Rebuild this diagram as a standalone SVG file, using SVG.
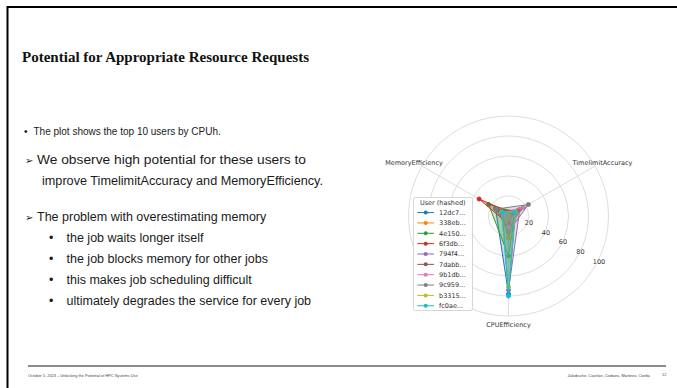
<svg xmlns="http://www.w3.org/2000/svg" width="677" height="388" viewBox="0 0 677 388">
<defs>
<style>
.body{font-family:"Liberation Sans",Arial,sans-serif;fill:#1a1a1a}
.sym{font-family:"DejaVu Sans",sans-serif;fill:#1a1a1a}
.mpl{font-family:"DejaVu Sans",sans-serif;fill:#333;font-size:6.5px}
.grid{fill:none;stroke:#d4d4d4;stroke-width:0.8}
.foot{font-family:"Liberation Sans",Arial,sans-serif;fill:#444;font-size:3.9px}
.poly{stroke-width:1;fill-opacity:0.25;stroke-linejoin:round}
</style>
</defs>
<rect x="0" y="0" width="677" height="388" fill="#ffffff"/>
<g id="frame">
<path d="M7.5 388 V7 H677" fill="none" stroke="#000" stroke-width="2"/>
</g>
<g id="title">
<text x="22" y="62" font-family="Liberation Serif,'DejaVu Serif',serif" font-weight="bold" font-size="15.5" fill="#111" textLength="287" lengthAdjust="spacingAndGlyphs">Potential for Appropriate Resource Requests</text>
</g>
<g id="text-left">
<text class="body" x="24" y="134.5" font-size="10">•</text>
<text class="body" x="33.5" y="134.5" font-size="10">The plot shows the top 10 users by CPUh.</text>
<text class="sym" x="25" y="163.5" font-size="10">➢</text>
<text class="body" x="37" y="163.5" font-size="12.5" textLength="269" lengthAdjust="spacingAndGlyphs">We observe high potential for these users to</text>
<text class="body" x="42" y="184.5" font-size="12.5" textLength="281" lengthAdjust="spacingAndGlyphs">improve TimelimitAccuracy and MemoryEfficiency.</text>
<text class="sym" x="25" y="220.5" font-size="10">➢</text>
<text class="body" x="37" y="220.5" font-size="12.5">The problem with overestimating memory</text>
<text class="body" x="49" y="241.5" font-size="12.5">•</text>
<text class="body" x="66.5" y="241.5" font-size="12.5">the job waits longer itself</text>
<text class="body" x="49" y="262.5" font-size="12.5">•</text>
<text class="body" x="66.5" y="262.5" font-size="12.5">the job blocks memory for other jobs</text>
<text class="body" x="49" y="283.5" font-size="12.5">•</text>
<text class="body" x="66.5" y="283.5" font-size="12.5">this makes job scheduling difficult</text>
<text class="body" x="49" y="304.5" font-size="12.5">•</text>
<text class="body" x="66.5" y="304.5" font-size="12.5">ultimately degrades the service for every job</text>
</g>
<g id="chart-grid">
<circle class="grid" cx="508.5" cy="216" r="20"/>
<circle class="grid" cx="508.5" cy="216" r="40"/>
<circle class="grid" cx="508.5" cy="216" r="60"/>
<circle class="grid" cx="508.5" cy="216" r="80"/>
<circle class="grid" cx="508.5" cy="216" r="100"/>
<path class="grid" d="M508.5 216 L595.1 166 M508.5 216 L421.9 166 M508.5 216 L508.5 316"/>
<text class="mpl" x="414" y="164.5" text-anchor="middle">MemoryEfficiency</text>
<text class="mpl" x="602.5" y="164.5" text-anchor="middle">TimelimitAccuracy</text>
<text class="mpl" x="508.5" y="326.5" text-anchor="middle">CPUEfficiency</text>
<text class="mpl" x="529" y="225.3" text-anchor="middle">20</text>
<text class="mpl" x="546" y="235.3" text-anchor="middle">40</text>
<text class="mpl" x="563" y="244.3" text-anchor="middle">60</text>
<text class="mpl" x="580.5" y="254.3" text-anchor="middle">80</text>
<text class="mpl" x="599" y="264.3" text-anchor="middle">100</text>
</g>
<g id="connectors">
<g stroke="#1f77b4" fill="#1f77b4"><polygon class="poly" points="495.5,208.5 515.4,212 508.5,294"/><circle cx="495.5" cy="208.5" r="2"/><circle cx="515.4" cy="212" r="2"/><circle cx="508.5" cy="294" r="2"/></g>
<g stroke="#ff7f0e" fill="#ff7f0e"><polygon class="poly" points="499.8,211 518.9,210 508.5,238"/><circle cx="499.8" cy="211" r="2"/><circle cx="518.9" cy="210" r="2"/><circle cx="508.5" cy="238" r="2"/></g>
<g stroke="#2ca02c" fill="#2ca02c"><polygon class="poly" points="488.6,204.5 515.4,212 508.5,256"/><circle cx="488.6" cy="204.5" r="2"/><circle cx="515.4" cy="212" r="2"/><circle cx="508.5" cy="256" r="2"/></g>
<g stroke="#d62728" fill="#d62728"><polygon class="poly" points="479.1,199 512.8,213.5 508.5,224"/><circle cx="479.1" cy="199" r="2"/><circle cx="512.8" cy="213.5" r="2"/><circle cx="508.5" cy="224" r="2"/></g>
<g stroke="#9467bd" fill="#9467bd"><polygon class="poly" points="501.6,212 519.8,209.5 508.5,290"/><circle cx="501.6" cy="212" r="2"/><circle cx="519.8" cy="209.5" r="2"/><circle cx="508.5" cy="290" r="2"/></g>
<g stroke="#8c564b" fill="#8c564b"><polygon class="poly" points="498.1,210 518,210.5 508.5,232"/><circle cx="498.1" cy="210" r="2"/><circle cx="518" cy="210.5" r="2"/><circle cx="508.5" cy="232" r="2"/></g>
<g stroke="#e377c2" fill="#e377c2"><polygon class="poly" points="503.3,213 523.2,207.5 508.5,228"/><circle cx="503.3" cy="213" r="2"/><circle cx="523.2" cy="207.5" r="2"/><circle cx="508.5" cy="228" r="2"/></g>
<g stroke="#7f7f7f" fill="#7f7f7f"><polygon class="poly" points="496.4,209 528.4,204.5 508.5,232"/><circle cx="496.4" cy="209" r="2"/><circle cx="528.4" cy="204.5" r="2"/><circle cx="508.5" cy="232" r="2"/></g>
<g stroke="#bcbd22" fill="#bcbd22"><polygon class="poly" points="501.6,212 515.4,212 508.5,287"/><circle cx="501.6" cy="212" r="2"/><circle cx="515.4" cy="212" r="2"/><circle cx="508.5" cy="287" r="2"/></g>
<g stroke="#17becf" fill="#17becf"><polygon class="poly" points="502.4,212.5 514.6,212.5 508.5,296"/><circle cx="502.4" cy="212.5" r="2"/><circle cx="514.6" cy="212.5" r="2"/><circle cx="508.5" cy="296" r="2"/></g>
</g>
<g id="legend">
<rect x="413.5" y="197.5" width="59" height="113" rx="2" fill="#fff" fill-opacity="0.85" stroke="#cccccc" stroke-width="0.8"/>
<text class="mpl" x="442.8" y="205.3" text-anchor="middle" font-size="7">User (hashed)</text>
<g stroke-width="1">
<line x1="417.3" y1="212.6" x2="434" y2="212.6" stroke="#1f77b4"/><circle cx="425.7" cy="212.6" r="2" fill="#1f77b4"/>
<line x1="417.3" y1="222.95" x2="434" y2="222.95" stroke="#ff7f0e"/><circle cx="425.7" cy="222.95" r="2" fill="#ff7f0e"/>
<line x1="417.3" y1="233.3" x2="434" y2="233.3" stroke="#2ca02c"/><circle cx="425.7" cy="233.3" r="2" fill="#2ca02c"/>
<line x1="417.3" y1="243.65" x2="434" y2="243.65" stroke="#d62728"/><circle cx="425.7" cy="243.65" r="2" fill="#d62728"/>
<line x1="417.3" y1="254" x2="434" y2="254" stroke="#9467bd"/><circle cx="425.7" cy="254" r="2" fill="#9467bd"/>
<line x1="417.3" y1="264.35" x2="434" y2="264.35" stroke="#8c564b"/><circle cx="425.7" cy="264.35" r="2" fill="#8c564b"/>
<line x1="417.3" y1="274.7" x2="434" y2="274.7" stroke="#e377c2"/><circle cx="425.7" cy="274.7" r="2" fill="#e377c2"/>
<line x1="417.3" y1="285.05" x2="434" y2="285.05" stroke="#7f7f7f"/><circle cx="425.7" cy="285.05" r="2" fill="#7f7f7f"/>
<line x1="417.3" y1="295.4" x2="434" y2="295.4" stroke="#bcbd22"/><circle cx="425.7" cy="295.4" r="2" fill="#bcbd22"/>
<line x1="417.3" y1="305.75" x2="434" y2="305.75" stroke="#17becf"/><circle cx="425.7" cy="305.75" r="2" fill="#17becf"/>
</g>
<text class="mpl" x="439" y="215">12dc7...</text>
<text class="mpl" x="439" y="225.35">338eb...</text>
<text class="mpl" x="439" y="235.7">4e150...</text>
<text class="mpl" x="439" y="246.05">6f3db...</text>
<text class="mpl" x="439" y="256.4">794f4...</text>
<text class="mpl" x="439" y="266.75">7dabb...</text>
<text class="mpl" x="439" y="277.1">9b1db...</text>
<text class="mpl" x="439" y="287.45">9c959...</text>
<text class="mpl" x="439" y="297.8">b3315...</text>
<text class="mpl" x="439" y="308.15">fc0ae...</text>
</g>
<g id="footer">
<line x1="28" y1="366" x2="666" y2="366" stroke="#666" stroke-width="1.3"/>
<text class="foot" x="28" y="376.5">October 5, 2023 – Unlocking the Potential of HPC Systems Use</text>
<text class="foot" x="650" y="376.5" text-anchor="end">Jakobsche, Cavelan, Ciobanu, Martinez, Ciorba</text>
<text class="foot" x="662" y="376">12</text>
</g>
</svg>
